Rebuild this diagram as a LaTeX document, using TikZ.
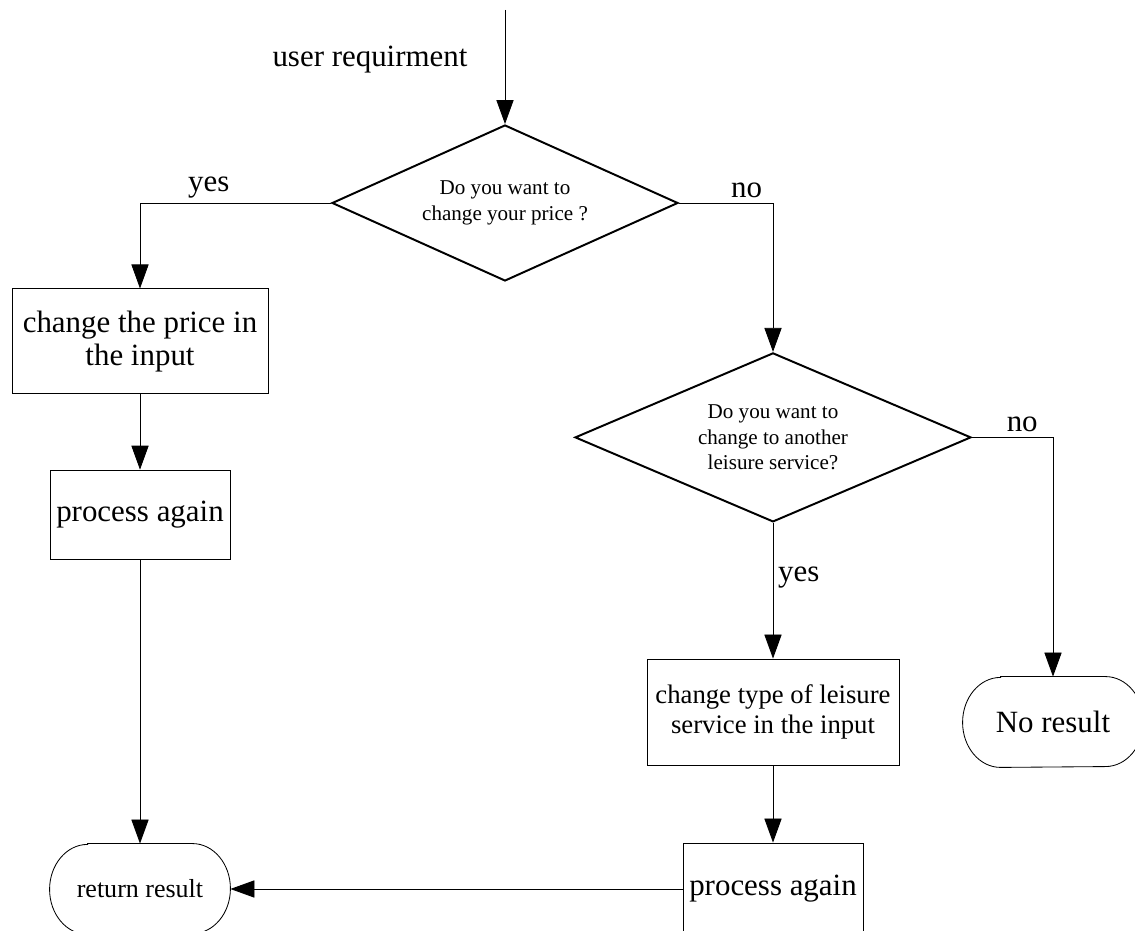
\documentclass[tikz,border=0pt]{standalone}
\usepackage{fontspec}
\setmainfont{Liberation Serif}
\usepackage{tikz}
\usetikzlibrary{arrows.meta,shapes.geometric}
\newcommand{\bigtxt}{\fontsize{22pt}{23.5pt}\selectfont}
\newcommand{\midtxt}{\fontsize{19pt}{21.3pt}\selectfont}
\newcommand{\smalltxt}{\fontsize{15pt}{18pt}\selectfont}

\begin{document}
\begin{tikzpicture}[>={Triangle[length=6mm,width=4.3mm]}, line width=0.6pt,
  ask/.style={draw, diamond, aspect=2.3, inner sep=0pt, line width=1.4pt, align=center, font=\smalltxt},
  work/.style={draw, rectangle, align=center, font=\bigtxt},
  term/.style={minimum width=4.5cm, minimum height=2.25cm, align=center}]
\useasboundingbox (0,0) rectangle (28.375,23.275);
\coordinate (S) at (12.625,23.025);
\node[font=\bigtxt] (U) at (9.25,21.775) {user requirment};
\node[ask, minimum width=8.65cm, minimum height=3.9cm] (Q1) at (12.625,18.2) {Do you want to\\change your price ?};
\node[work, minimum width=6.4cm, minimum height=2.625cm] (B1) at (3.5,14.74) {change the price in\\the input};
\node[work, minimum width=4.5cm, minimum height=2.225cm] (B2) at (3.5,10.41) {process again};
\node[term, font=\fontsize{18.5pt}{20pt}\selectfont] (T1) at (3.5,1.05) {return result};
\node[ask, minimum width=9.9cm, minimum height=4.225cm] (Q2) at (19.325,12.34) {Do you want to\\change to another\\leisure service?};
\node[work, minimum width=6.3cm, minimum height=2.65cm, font=\midtxt] (B3) at (19.325,5.475) {change type of leisure\\service in the input};
\node[work, minimum width=4.5cm, minimum height=2.3cm] (B4) at (19.325,1.05) {process again};
\node[term, font=\bigtxt] (T2) at (26.325,5.225) {No result};
% rounded ends
\foreach \t in {T1,T2}
  \draw ([xshift=0.95cm]\t.north west) -- ([xshift=-0.95cm]\t.north east)
    arc[start angle=90, end angle=-90, x radius=0.95cm, y radius=1.125cm]
    -- ([xshift=0.95cm]\t.south west)
    arc[start angle=270, end angle=90, x radius=0.95cm, y radius=1.125cm] -- cycle;
\draw[->] (S) -- (Q1);
\draw[->] (Q1.west) -| node[above, pos=0.32, font=\bigtxt]{yes} (B1.north);
\draw[->] (Q1.east) -| node[above, pos=0.36, font=\bigtxt]{no} (Q2.north);
\draw[->] (B1) -- (B2);
\draw[->] (B2) -- (T1);
\draw[->] (Q2.south) -- node[right, pos=0.4, font=\bigtxt]{yes} (B3);
\draw[->] (Q2.east) -| node[above, pos=0.31, font=\bigtxt]{no} (T2.north);
\draw[->] (B3) -- (B4);
\draw[->] (B4) -- (T1);
\end{tikzpicture}
\end{document}
